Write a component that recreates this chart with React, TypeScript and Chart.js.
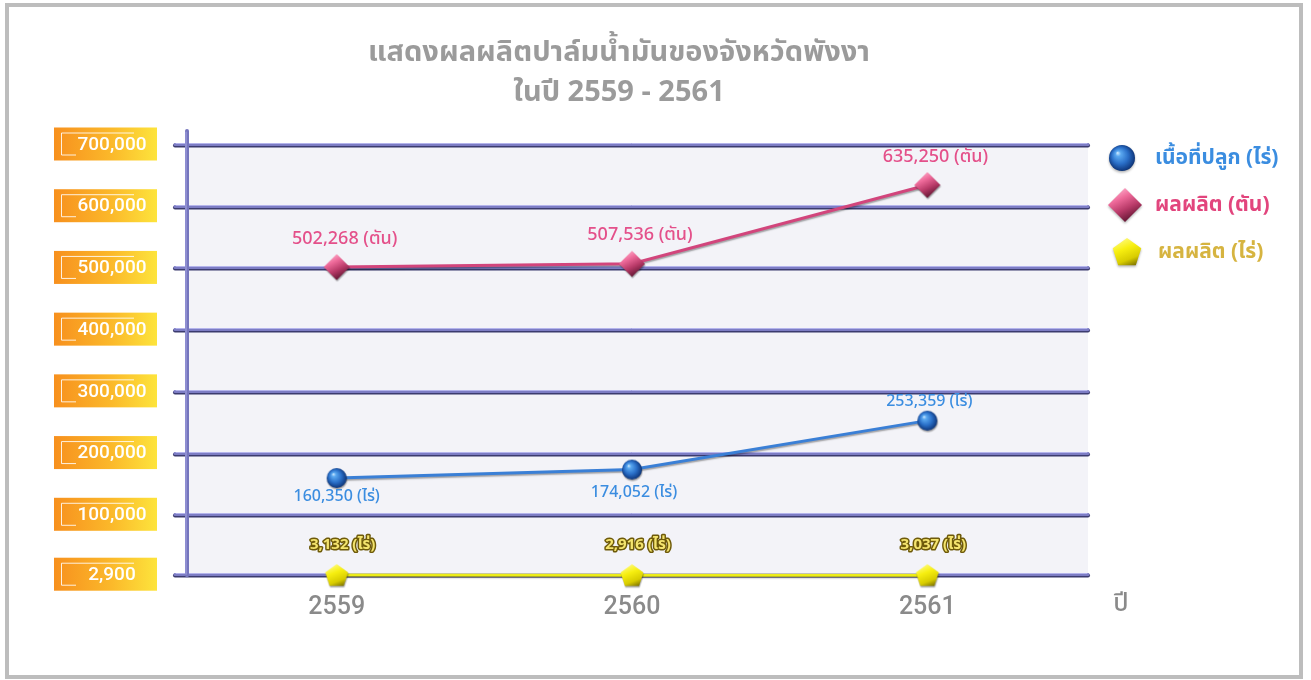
import { useEffect, useRef } from "react";
import { Chart, registerables } from "chart.js";

Chart.register(...registerables);

const titleLines = ["แสดงผลผลิตปาล์มน้ำมันของจังหวัดพังงา", "ในปี 2559 - 2561"];
const years = ["2559", "2560", "2561"];
const areaRai = [160350, 174052, 253359];
const outputTon = [502268, 507536, 635250];
const outputPerRai = [3132, 2916, 3037];
const seriesNames = ["เนื้อที่ปลูก (ไร่)", "ผลผลิต (ตัน)", "ผลผลิต (ไร่)"];
const unitSuffix = ["(ไร่)", "(ตัน)", "(ไร่)"];
const yTickValues = [2900, 100000, 200000, 300000, 400000, 500000, 600000, 700000];
const yTickLabels = ["2,900", "100,000", "200,000", "300,000", "400,000", "500,000", "600,000", "700,000"];
const xAxisTitle = "ปี";

const FONT = "Roboto, 'Noto Sans', 'DejaVu Sans', sans-serif";
const THAI = "'Noto Sans Thai', 'Noto Sans', Roboto, 'DejaVu Sans', sans-serif";

function makeSphere(r: number) {
  const c = document.createElement("canvas");
  const s = Math.ceil(r * 2 + 4);
  c.width = s;
  c.height = s;
  const g = c.getContext("2d")!;
  const cx = s / 2, cy = s / 2;
  const grad = g.createRadialGradient(cx - r * 0.35, cy - r * 0.4, 0, cx, cy, r * 1.15);
  grad.addColorStop(0, "#d6eeff");
  grad.addColorStop(0.18, "#5aa8f0");
  grad.addColorStop(0.55, "#2a6fc8");
  grad.addColorStop(0.85, "#123e86");
  grad.addColorStop(1, "#0a1f4a");
  g.fillStyle = grad;
  g.beginPath();
  g.arc(cx, cy, r, 0, Math.PI * 2);
  g.fill();
  return c;
}

function makeDiamond(r: number) {
  const c = document.createElement("canvas");
  const s = Math.ceil(r * 2 + 4);
  c.width = s;
  c.height = s;
  const g = c.getContext("2d")!;
  const cx = s / 2, cy = s / 2;
  const grad = g.createLinearGradient(cx - r * 0.5, cy - r, cx + r * 0.5, cy + r);
  grad.addColorStop(0, "#ffb6d0");
  grad.addColorStop(0.3, "#ee6a9a");
  grad.addColorStop(0.6, "#b83a68");
  grad.addColorStop(1, "#4a0c24");
  g.fillStyle = grad;
  g.beginPath();
  g.moveTo(cx, cy - r);
  g.lineTo(cx + r, cy);
  g.lineTo(cx, cy + r);
  g.lineTo(cx - r, cy);
  g.closePath();
  g.fill();
  return c;
}

function makePentagon(r: number) {
  const c = document.createElement("canvas");
  const s = Math.ceil(r * 2 + 4);
  c.width = s;
  c.height = s;
  const g = c.getContext("2d")!;
  const cx = s / 2, cy = s / 2 + 1;
  const grad = g.createLinearGradient(cx - r * 0.4, cy - r, cx + r * 0.4, cy + r);
  grad.addColorStop(0, "#fffb80");
  grad.addColorStop(0.35, "#f7ef10");
  grad.addColorStop(0.7, "#d8cc00");
  grad.addColorStop(1, "#6a6000");
  g.fillStyle = grad;
  g.beginPath();
  for (let k = 0; k < 5; k++) {
    const a = -Math.PI / 2 + (k * 2 * Math.PI) / 5;
    const px = cx + r * Math.cos(a);
    const py = cy + r * Math.sin(a);
    if (k === 0) g.moveTo(px, py);
    else g.lineTo(px, py);
  }
  g.closePath();
  g.fill();
  return c;
}

function fmt(v: number) {
  return v.toLocaleString("en-US");
}

export default function App() {
  const ref = useRef<HTMLCanvasElement | null>(null);

  useEffect(() => {
    const canvas = ref.current!;
    const sphere = makeSphere(10);
    const diamond = makeDiamond(13);
    const pentagon = makePentagon(12);
    const sphereL = makeSphere(13);
    const diamondL = makeDiamond(17);
    const pentagonL = makePentagon(15);

    const decor = {
      id: "decor",
      beforeDatasetsDraw(chart: any) {
        const ctx = chart.ctx as CanvasRenderingContext2D;
        const ca = chart.chartArea;
        const ys = chart.scales.y;
        const gl = ca.left - 14;
        const gr = ca.right + 13;
        const bottomY = ys.getPixelForValue(yTickValues[0]);
        const topY = ys.getPixelForValue(yTickValues[yTickValues.length - 1]);
        ctx.save();
        ctx.fillStyle = "#f3f3f8";
        ctx.fillRect(ca.left - 2, topY, gr - (ca.left - 2), bottomY - topY);

        // gridlines
        ctx.lineCap = "round";
        yTickValues.forEach((v) => {
          const py = Math.round(ys.getPixelForValue(v));
          ctx.strokeStyle = "#3b3b6e";
          ctx.lineWidth = 4;
          ctx.beginPath();
          ctx.moveTo(gl, py + 0.5);
          ctx.lineTo(gr, py + 0.5);
          ctx.stroke();
          ctx.strokeStyle = "#7c7cc4";
          ctx.lineWidth = 3;
          ctx.beginPath();
          ctx.moveTo(gl, py - 0.5);
          ctx.lineTo(gr, py - 0.5);
          ctx.stroke();
          ctx.strokeStyle = "#b4b4ec";
          ctx.lineWidth = 1;
          ctx.beginPath();
          ctx.moveTo(gl + 1, py - 1.5);
          ctx.lineTo(gr - 1, py - 1.5);
          ctx.stroke();
        });

        // vertical axis
        const ax = ca.left - 2;
        ctx.strokeStyle = "#7575bd";
        ctx.lineWidth = 4;
        ctx.beginPath();
        ctx.moveTo(ax, topY - 14);
        ctx.lineTo(ax, bottomY);
        ctx.stroke();
        ctx.strokeStyle = "#a8a8e4";
        ctx.lineWidth = 1;
        ctx.beginPath();
        ctx.moveTo(ax - 1, topY - 13);
        ctx.lineTo(ax - 1, bottomY - 1);
        ctx.stroke();

        // y label boxes
        yTickValues.forEach((v, i) => {
          const py = ys.getPixelForValue(v);
          const bx = ca.left - 135;
          const bw = 103;
          const bh = 33;
          const by = py - bh / 2 - 1;
          const grad = ctx.createLinearGradient(bx, 0, bx + bw, 0);
          grad.addColorStop(0, "#f7901e");
          grad.addColorStop(0.55, "#fbb82a");
          grad.addColorStop(1, "#fde43c");
          ctx.fillStyle = grad;
          ctx.fillRect(bx, by, bw, bh);
          ctx.strokeStyle = "rgba(255,255,255,0.85)";
          ctx.lineWidth = 1;
          ctx.lineCap = "butt";
          ctx.beginPath();
          ctx.moveTo(bx + 80, by + 5.5);
          ctx.lineTo(bx + 7.5, by + 5.5);
          ctx.lineTo(bx + 7.5, by + bh - 5.5);
          ctx.lineTo(bx + 22, by + bh - 5.5);
          ctx.stroke();
          ctx.fillStyle = "#ffffff";
          ctx.font = `500 19px ${FONT}`;
          ctx.textAlign = "center";
          ctx.textBaseline = "middle";
          ctx.fillText(yTickLabels[i], bx + 58, by + bh / 2 + 1);
        });
        ctx.restore();

        ctx.save();
        ctx.shadowColor = "rgba(0,0,0,0.35)";
        ctx.shadowOffsetY = 1.5;
        ctx.shadowOffsetX = 0.5;
        ctx.shadowBlur = 1.5;
      },
      afterDatasetsDraw(chart: any) {
        const ctx = chart.ctx as CanvasRenderingContext2D;
        ctx.restore();
        const ca = chart.chartArea;
        const xs = chart.scales.x;
        const ys = chart.scales.y;
        ctx.save();
        ctx.textAlign = "center";
        ctx.textBaseline = "middle";

        // title
        const tx = (ca.left + ca.right) / 2 - 13;
        ctx.fillStyle = "#9b9b9b";
        ctx.font = `bold 29px ${THAI}`;
        ctx.fillText(titleLines[0], tx, 55);
        ctx.fillText(titleLines[1], tx, 95);

        // x labels
        ctx.fillStyle = "#8a8a8a";
        ctx.font = `500 25px ${FONT}`;
        years.forEach((y, i) => {
          ctx.fillText(y, xs.getPixelForValue(i), 608);
        });
        ctx.font = `500 25px ${THAI}`;
        ctx.fillText(xAxisTitle, ca.right + 46, 606);

        // data labels
        const blueOffsets = [20, 24, -18];
        ctx.font = `500 16px ${THAI}`;
        ctx.fillStyle = "#3b8de0";
        areaRai.forEach((v, i) => {
          const px = xs.getPixelForValue(i);
          const py = ys.getPixelForValue(v);
          ctx.fillText(`${fmt(v)} ${unitSuffix[0]}`, px + (i === 0 ? 0 : 2), py + blueOffsets[i]);
        });
        ctx.font = `500 18px ${THAI}`;
        ctx.fillStyle = "#e4508a";
        outputTon.forEach((v, i) => {
          const px = xs.getPixelForValue(i);
          const py = ys.getPixelForValue(v);
          ctx.fillText(`${fmt(v)} ${unitSuffix[1]}`, px + 8, py - 27);
        });
        ctx.font = `bold 15px ${THAI}`;
        ctx.lineJoin = "round";
        outputPerRai.forEach((v, i) => {
          const px = xs.getPixelForValue(i);
          const py = ys.getPixelForValue(v);
          const t = `${fmt(v)} ${unitSuffix[2]}`;
          ctx.strokeStyle = "#6e5a0a";
          ctx.lineWidth = 3;
          ctx.strokeText(t, px + 6, py - 29);
          ctx.fillStyle = "#f4e46e";
          ctx.fillText(t, px + 6, py - 29);
        });

        // legend
        const lx = ca.right + 47;
        const icons = [sphereL, diamondL, pentagonL];
        const iconX = [lx, lx + 3, lx + 5];
        const rowY = [158, 205, 252];
        const textX = [lx + 33, lx + 33, lx + 36];
        const colors = ["#3b8de0", "#e2457d", "#d6b440"];
        ctx.shadowColor = "rgba(0,0,0,0.3)";
        ctx.shadowOffsetY = 1.5;
        ctx.shadowBlur = 2;
        icons.forEach((ic, i) => {
          ctx.drawImage(ic, iconX[i] - ic.width / 2, rowY[i] - ic.height / 2);
        });
        ctx.shadowColor = "transparent";
        ctx.textAlign = "left";
        ctx.font = `bold 21px ${THAI}`;
        seriesNames.forEach((n, i) => {
          ctx.fillStyle = colors[i];
          ctx.fillText(n, textX[i], rowY[i] + 2);
        });
        ctx.restore();
      },
    };

    const chart = new Chart(canvas, {
      type: "line",
      data: {
        labels: years,
        datasets: [
          {
            label: seriesNames[0],
            data: areaRai,
            borderColor: "#3a7fd6",
            borderWidth: 3,
            pointStyle: sphere as any,
            pointRadius: 10,
            tension: 0,
            clip: false,
          } as any,
          {
            label: seriesNames[1],
            data: outputTon,
            borderColor: "#d2457c",
            borderWidth: 3,
            pointStyle: diamond as any,
            pointRadius: 13,
            tension: 0,
            clip: false,
          } as any,
          {
            label: seriesNames[2],
            data: outputPerRai,
            borderColor: "#ecec18",
            borderWidth: 3,
            pointStyle: pentagon as any,
            pointRadius: 12,
            tension: 0,
            clip: false,
          } as any,
        ],
      },
      options: {
        responsive: false,
        animation: false,
        devicePixelRatio: 1,
        layout: { padding: { left: 189, right: 236, top: 145, bottom: 103 } },
        plugins: {
          legend: { display: false },
          tooltip: { enabled: false },
          title: { display: false },
        },
        scales: {
          x: { type: "category", offset: true, display: false },
          y: { type: "linear", min: 0, max: 700000, display: false },
        },
      },
      plugins: [decor],
    });
    return () => chart.destroy();
  }, []);

  return (
    <div style={{ position: "absolute", left: 0, top: 0, width: 1311, height: 680, background: "#ffffff", overflow: "hidden" }}>
      <canvas ref={ref} width={1311} height={680} style={{ position: "absolute", left: 0, top: 0, width: 1311, height: 680 }} />
      <div
        style={{
          position: "absolute",
          left: 5,
          top: 3,
          width: 1298,
          height: 676,
          boxSizing: "border-box",
          border: "4px solid #bdbdbd",
          pointerEvents: "none",
        }}
      />
    </div>
  );
}
